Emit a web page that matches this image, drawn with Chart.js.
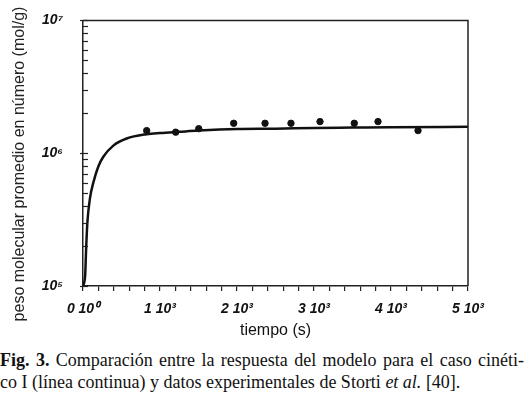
<!DOCTYPE html>
<html>
<head>
<meta charset="utf-8">
<script src="https://cdn.jsdelivr.net/npm/chart.js@4/dist/chart.umd.min.js"></script>
<style>
  html, body { margin: 0; padding: 0; background: #fff; }
  #wrap { position: relative; width: 524px; height: 397px; overflow: hidden; }
  #chart { position: absolute; left: 0; top: 0; }
  .cap { position: absolute; left: 0; width: 524px; font-family: 'Liberation Serif', 'Times New Roman', serif;
         font-size: 18px; color: #111; white-space: nowrap; }
  #cap1 { top: 350px; text-align: justify; text-align-last: justify; }
  #cap2 { top: 372px; }
</style>
</head>
<body>
<div id="wrap">
  <canvas id="chart" width="524" height="340"></canvas>
  <div class="cap" id="cap1"><b>Fig. 3.</b> Comparación entre la respuesta del modelo para el caso cinéti-</div>
  <div class="cap" id="cap2">co I (línea continua) y datos experimentales de Storti <i>et al.</i> [40].</div>
</div>
<script>
// modelo (linea continua)
const tiempoModelo = [0, 28, 39, 56, 91, 134, 199, 264, 394, 567, 827, 1000, 1250, 1500, 2000, 2500, 3000, 3500, 4000, 5000];
const pesoModelo = [1.0e5, 1.2e5, 1.8e5, 2.96e5, 4.6e5, 6.0e5, 7.94e5, 9.4e5, 1.14e6, 1.29e6, 1.39e6, 1.42e6, 1.45e6, 1.48e6, 1.52e6, 1.53e6, 1.55e6, 1.56e6, 1.57e6, 1.58e6];

// datos experimentales (Storti et al.)
const tiempoExp = [827, 1204, 1503, 1957, 2364, 2701, 3078, 3523, 3831, 4351];
const pesoExp = [1.48e6, 1.44e6, 1.53e6, 1.68e6, 1.68e6, 1.68e6, 1.73e6, 1.68e6, 1.73e6, 1.48e6];

const xTicks = [0, 1000, 2000, 3000, 4000, 5000];
const xTickLabels = ['0 10⁰', '1 10³', '2 10³', '3 10³', '4 10³', '5 10³'];
const yTicks = [1e5, 1e6, 1e7];
const yTickLabels = ['10⁵', '10⁶', '10⁷'];

const tickFont = { family: "'Liberation Sans', Arial, sans-serif", size: 14, weight: 'bold', style: 'italic' };

// marco, ticks internos del eje y y titulo vertical
const marco = {
  id: 'marco',
  afterDraw(chart) {
    const ctx = chart.ctx;
    const a = chart.chartArea;
    const y = chart.scales.y;
    ctx.save();
    ctx.strokeStyle = '#222';
    ctx.lineWidth = 1.5;
    ctx.beginPath();
    ctx.moveTo(a.left, a.top);
    ctx.lineTo(a.right, a.top);
    ctx.lineTo(a.right, a.bottom);
    ctx.stroke();
    ctx.lineWidth = 1.2;
    const menores = [];
    [1e5, 1e6].forEach(d => { for (let k = 1; k < 10; k++) menores.push(k * d); });
    menores.push(1e7);
    menores.forEach(v => {
      const py = Math.round(y.getPixelForValue(v)) + 0.5;
      const big = yTicks.includes(v);
      ctx.beginPath();
      ctx.moveTo(a.left - (big ? 3 : 0), py);
      ctx.lineTo(a.left + 5, py);
      ctx.stroke();
    });
    ctx.fillStyle = '#222';
    ctx.font = "16px 'Liberation Sans', Arial, sans-serif";
    ctx.textAlign = 'center';
    ctx.textBaseline = 'middle';
    ctx.translate(20, 164);
    ctx.rotate(-Math.PI / 2);
    ctx.fillText('peso molecular promedio en número (mol/g)', 0, 0);
    ctx.restore();
  }
};

new Chart(document.getElementById('chart').getContext('2d'), {
  data: {
    datasets: [
      {
        type: 'line',
        label: 'modelo',
        data: tiempoModelo.map((t, i) => ({ x: t, y: pesoModelo[i] })),
        borderColor: '#111',
        borderWidth: 2.5,
        pointRadius: 0,
        cubicInterpolationMode: 'monotone',
        fill: false
      },
      {
        type: 'scatter',
        label: 'experimental',
        data: tiempoExp.map((t, i) => ({ x: t, y: pesoExp[i] })),
        backgroundColor: '#111',
        borderColor: '#111',
        pointRadius: 3.2
      }
    ]
  },
  options: {
    responsive: false,
    animation: false,
    layout: { padding: { top: 6, right: 56, left: 0, bottom: 0 } },
    plugins: {
      legend: { display: false },
      tooltip: { enabled: false }
    },
    scales: {
      x: {
        type: 'linear',
        min: 0,
        max: 5000,
        grid: { drawOnChartArea: false, tickLength: 5, color: '#222', lineWidth: 1.2 },
        border: { color: '#222', width: 1.5 },
        ticks: {
          stepSize: 200,
          autoSkip: false,
          maxRotation: 0,
          padding: 10,
          color: '#111',
          font: tickFont,
          callback: v => {
            const i = xTicks.indexOf(v);
            return i >= 0 ? xTickLabels[i] : '';
          }
        },
        title: {
          display: true,
          text: 'tiempo (s)',
          color: '#111',
          font: { family: "'Liberation Sans', Arial, sans-serif", size: 16 },
          padding: { top: 8, bottom: 0 }
        },
        afterFit: s => { s.height = 54; }
      },
      y: {
        type: 'logarithmic',
        min: 1e5,
        max: 1e7,
        grid: { display: false },
        border: { color: '#222', width: 1.5 },
        ticks: {
          autoSkip: false,
          padding: 12,
          color: '#111',
          font: tickFont,
          callback: v => {
            const i = yTicks.indexOf(v);
            return i >= 0 ? yTickLabels[i] : '';
          }
        },
        afterFit: s => { s.width = 83; }
      }
    }
  },
  plugins: [marco]
});
</script>
</body>
</html>
